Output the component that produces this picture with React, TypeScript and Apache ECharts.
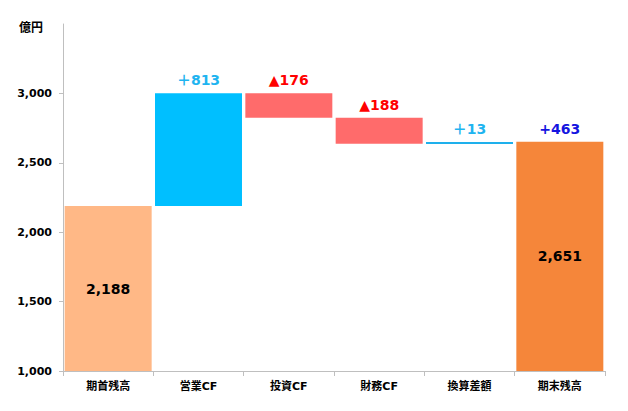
import React, { useEffect, useRef } from "react";
import * as echarts from "echarts";

const categories = ["期首残高", "営業CF", "投資CF", "財務CF", "換算差額", "期末残高"];
const startBalance = 2188;
const flowValues = [813, -176, -188, 13];
const endBalance = 2651;
const topLabels = ["", "＋813", "▲176", "▲188", "＋13", "+463"];
const insideLabels = ["2,188", "", "", "", "", "2,651"];
const yTicks = [1000, 1500, 2000, 2500, 3000];
const yAxisMax = 3500;

const barColors = ["#FFB886", "#00BFFF", "#FF6B6B", "#FF6B6B", "#1EB0EC", "#F5863A"];
const topLabelColors = ["#000", "#1EB4F0", "#FF0000", "#FF0000", "#1EB4F0", "#1414E0"];

const FONT = "DejaVu Sans, 'Noto Sans CJK JP', sans-serif";

export default function App() {
  const ref = useRef<HTMLDivElement>(null);
  useEffect(() => {
    document.body.style.margin = "0";
    const chart = echarts.init(ref.current!, null, { renderer: "svg" });
    const yMin = yTicks[0];

    const rows: number[][] = [];
    rows.push([0, 0, startBalance]);
    let running = startBalance;
    flowValues.forEach((v, i) => {
      const next = running + v;
      rows.push([i + 1, Math.min(running, next), Math.max(running, next)]);
      running = next;
    });
    rows.push([categories.length - 1, 0, endBalance]);

    chart.setOption({
      animation: false,
      grid: { left: 63, right: 23, top: 24, bottom: 40 },
      xAxis: {
        type: "category",
        data: categories,
        boundaryGap: true,
        axisLine: { lineStyle: { color: "#BFBFBF", width: 1 } },
        axisTick: { show: true, length: 5, alignWithLabel: false, lineStyle: { color: "#BFBFBF" } },
        axisLabel: { color: "#000", fontSize: 11, fontWeight: "bold", fontFamily: FONT, margin: 10 },
      },
      yAxis: {
        type: "value",
        min: yMin,
        max: yAxisMax,
        interval: 500,
        splitLine: { show: false },
        axisLine: { show: true, lineStyle: { color: "#BFBFBF", width: 1 } },
        axisTick: { show: true, length: 4, customValues: yTicks, lineStyle: { color: "#BFBFBF" } },
        axisLabel: {
          color: "#000",
          fontSize: 11,
          fontWeight: "bold",
          fontFamily: FONT,
          margin: 11,
          customValues: yTicks,
          formatter: (v: number) => v.toLocaleString("en-US"),
        },
      },
      graphic: [
        {
          type: "text",
          left: 19,
          top: 22,
          style: { text: "億円", fill: "#000", font: `bold 12px ${FONT}` },
        },
      ],
      series: [
        {
          type: "custom",
          data: rows,
          encode: { x: 0, y: [1, 2] },
          renderItem: (params: any, api: any) => {
            const idx = api.value(0);
            const low = api.value(1);
            const high = api.value(2);
            const pTop = api.coord([idx, high]);
            const pBot = api.coord([idx, Math.max(low, yMin)]);
            const w = api.size([1, 0])[0] * 0.963;
            const h = Math.max(pBot[1] - pTop[1], 2);
            const children: any[] = [
              {
                type: "rect",
                shape: { x: pTop[0] - w / 2, y: pTop[1], width: w, height: h },
                style: { fill: barColors[idx] },
              },
            ];
            if (topLabels[idx]) {
              children.push({
                type: "text",
                x: pTop[0],
                y: pTop[1] - 6,
                style: {
                  text: topLabels[idx],
                  fill: topLabelColors[idx],
                  font: `bold 14px ${FONT}`,
                  align: "center",
                  verticalAlign: "bottom",
                },
              });
            }
            if (insideLabels[idx]) {
              children.push({
                type: "text",
                x: pTop[0],
                y: (pTop[1] + pBot[1]) / 2,
                style: {
                  text: insideLabels[idx],
                  fill: "#000",
                  font: `bold 14px ${FONT}`,
                  align: "center",
                  verticalAlign: "middle",
                },
              });
            }
            return { type: "group", children };
          },
        },
      ],
    });
    return () => chart.dispose();
  }, []);
  return <div ref={ref} style={{ width: 628, height: 411 }} />;
}
